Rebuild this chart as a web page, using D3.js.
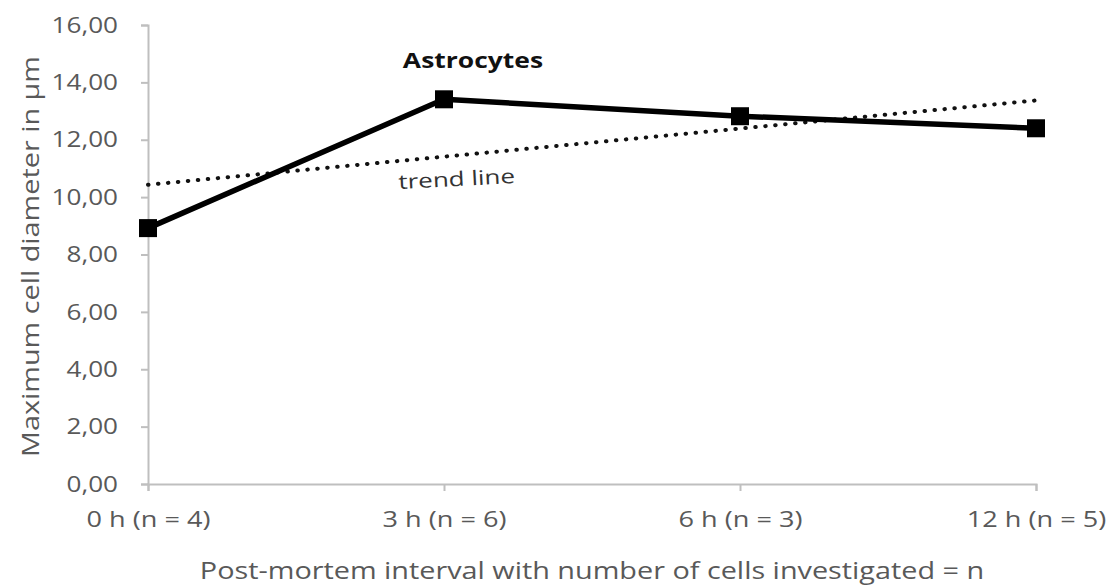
<!DOCTYPE html>
<html>
<head>
<meta charset="utf-8">
<script src="https://cdn.jsdelivr.net/npm/d3@7"></script>
<style>
  body { margin: 0; background: #fff; }
  text { font-family: "Open Sans", "Noto Sans", sans-serif; }
</style>
</head>
<body>
<svg id="chart" width="1115" height="588"></svg>
<script>
const categories = ["0 h (n = 4)", "3 h (n = 6)", "6 h (n = 3)", "12 h (n = 5)"];
const astrocytes = [8.92, 13.41, 12.82, 12.40];
const trendValues = [10.43, 13.37]; // trend line at first and last category
const yTicks = [0, 2, 4, 6, 8, 10, 12, 14, 16];
const yTickLabels = ["0,00", "2,00", "4,00", "6,00", "8,00", "10,00", "12,00", "14,00", "16,00"];
const seriesLabel = "Astrocytes";
const trendLabel = "trend line";
const xTitle = "Post-mortem interval with number of cells investigated = n";
const yTitle = "Maximum cell diameter in µm";

const svg = d3.select("#chart");
const mLeft = 148, mRight = 1036, mTop = 25, mBottom = 484;
const axisColor = "#bfbfbf", textColor = "#595959";

// widen glyphs horizontally to mimic the reference's stretched text
function stretch(sel, f) {
  sel.each(function () {
    const w = this.getComputedTextLength();
    d3.select(this).attr("textLength", w * f).attr("lengthAdjust", "spacingAndGlyphs");
  });
}

const x = d3.scalePoint().domain(categories).range([mLeft, mRight]).padding(0);
const y = d3.scaleLinear().domain([0, 16]).range([mBottom, mTop]);

// Y axis
const yAxis = svg.append("g").attr("transform", `translate(${mLeft},0)`)
  .call(d3.axisLeft(y).tickValues(yTicks).tickFormat((d, i) => yTickLabels[i]).tickSize(7).tickPadding(23));
yAxis.select(".domain").attr("stroke", axisColor).attr("stroke-width", 2);
yAxis.selectAll(".tick line").attr("stroke", axisColor).attr("stroke-width", 2);
yAxis.selectAll(".tick text").attr("fill", textColor).style("font-size", "22.5px")
  .attr("font-family", "'Open Sans', sans-serif").call(stretch, 1.16);

// X axis
const xAxis = svg.append("g").attr("transform", `translate(0,${mBottom})`)
  .call(d3.axisBottom(x).tickSize(7).tickPadding(21));
xAxis.select(".domain").attr("stroke", axisColor).attr("stroke-width", 2);
xAxis.selectAll(".tick line").attr("stroke", axisColor).attr("stroke-width", 2);
xAxis.selectAll(".tick text").attr("fill", textColor).style("font-size", "21px")
  .attr("font-family", "'Open Sans', sans-serif").call(stretch, 1.29);

// Axis titles
svg.append("text").attr("x", (mLeft + mRight) / 2).attr("y", 579)
  .attr("text-anchor", "middle").attr("fill", textColor).style("font-size", "24px")
  .text(xTitle).call(stretch, 1.2);
svg.append("text").attr("transform", `translate(39,${(mTop + mBottom) / 2 + 2}) rotate(-90)`)
  .attr("text-anchor", "middle").attr("fill", textColor).style("font-size", "24px")
  .text(yTitle).call(stretch, 1.2);

// Trend line
const trendData = [[categories[0], trendValues[0]], [categories[categories.length - 1], trendValues[1]]];
svg.append("path").datum(trendData)
  .attr("d", d3.line().x(d => x(d[0])).y(d => y(d[1])))
  .attr("fill", "none").attr("stroke", "#111").attr("stroke-width", 4)
  .attr("stroke-linecap", "round").attr("stroke-dasharray", "0.5,9.5");

// Series line
const line = d3.line().x((d, i) => x(categories[i])).y(d => y(d));
svg.append("path").datum(astrocytes).attr("d", line)
  .attr("fill", "none").attr("stroke", "#000").attr("stroke-width", 5.5)
  .attr("stroke-linejoin", "round");

// Markers
const ms = 18;
svg.selectAll("rect.marker").data(astrocytes).enter().append("rect")
  .attr("class", "marker")
  .attr("x", (d, i) => x(categories[i]) - ms / 2)
  .attr("y", d => y(d) - ms / 2)
  .attr("width", ms).attr("height", ms).attr("fill", "#000");

// Labels
svg.append("text").attr("x", x(categories[1]) + 29).attr("y", 68)
  .attr("text-anchor", "middle").attr("fill", "#111").style("font-size", "21px")
  .style("font-weight", "bold").text(seriesLabel).call(stretch, 1.26);
svg.append("text").attr("transform", "translate(457,186) rotate(-3)")
  .attr("text-anchor", "middle").attr("fill", "#333").style("font-size", "20px")
  .text(trendLabel).call(stretch, 1.3);
</script>
</body>
</html>
